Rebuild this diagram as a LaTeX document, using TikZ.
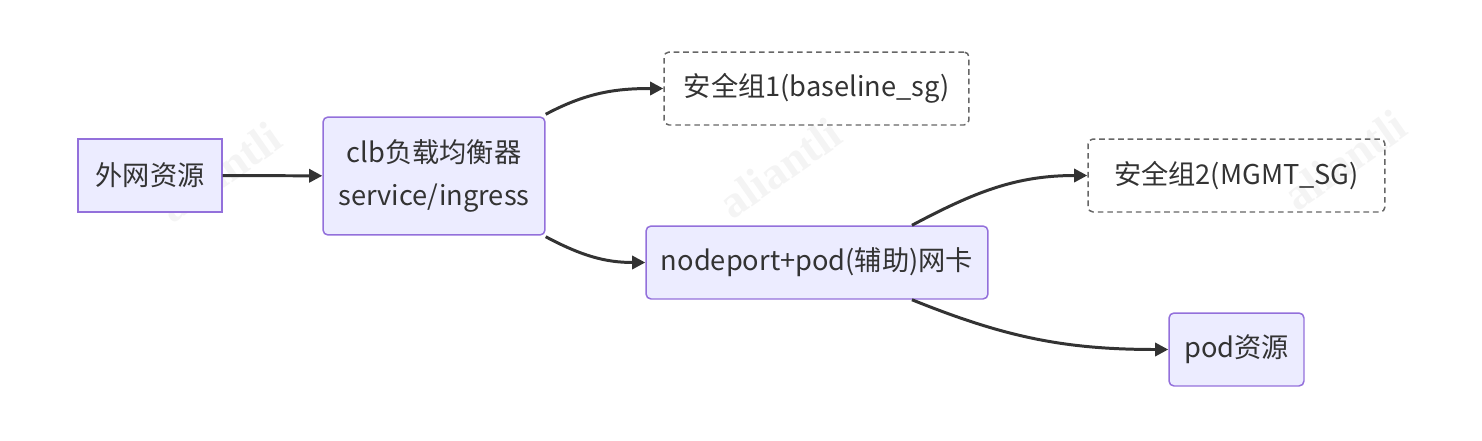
\documentclass[tikz,border=0pt]{standalone}
\usepackage{fontspec}
\setmainfont{Noto Sans CJK SC}
\newfontfamily\wmfont{Liberation Serif}
\usetikzlibrary{arrows.meta,positioning,calc}
\definecolor{boxfill}{HTML}{ECECFF}
\definecolor{boxline}{HTML}{9370DB}
\definecolor{edgecol}{HTML}{333333}
\definecolor{dashcol}{HTML}{666666}

\begin{document}
\begin{tikzpicture}[x=0.02cm, y=-0.02cm]
  \tikzstyle{box}=[draw=boxline, fill=boxfill, line width=0.85pt, inner sep=0pt, font=\fontsize{15.5}{24.5}\selectfont, text=edgecol, align=center]
  \tikzstyle{rbox}=[box, rounded corners=0.1cm]
  \tikzstyle{dbox}=[draw=dashcol, line width=0.85pt, dash pattern=on 3.2pt off 2.2pt, rounded corners=0.1cm, inner sep=0pt, font=\fontsize{15.5}{20}\selectfont, text=edgecol]
  \tikzstyle{link}=[draw=edgecol, line width=1.7pt, -{Triangle[length=7.5pt,width=7.5pt]}]
  \tikzstyle{wmark}=[text=gray!9, font=\wmfont\bfseries\fontsize{26}{26}\selectfont, rotate=35]

  \useasboundingbox (0,0) rectangle (1482,440);

  % marca de agua
  \node[wmark] (wm1) at (220,172) {aliantli};
  \node[wmark] (wm2) at (780,168) {aliantli};
  \node[wmark] (wm3) at (1345,160) {aliantli};

  % nodos
  \node[box, minimum width=2.88cm, minimum height=1.46cm] (ext) at (150,175.5) {外网资源};
  \node[rbox, minimum width=4.44cm, minimum height=2.36cm] (clb) at (434,176) {clb负载均衡器\\service/ingress};
  \node[dbox, minimum width=6.1cm, minimum height=1.46cm] (sgone) at (816.5,88.5) {安全组1(baseline\_sg)};
  \node[dbox, minimum width=5.94cm, minimum height=1.46cm] (sgtwo) at (1236.5,175.5) {安全组2(MGMT\_SG)};
  \node[rbox, minimum width=6.84cm, minimum height=1.46cm] (nport) at (817,262.5) {nodeport+pod(辅助)网卡};
  \node[rbox, minimum width=2.7cm, minimum height=1.46cm] (pod) at (1236.5,349.5) {pod资源};

  % conexiones
  \coordinate (npup) at ([xshift=1.9cm]nport.north);
  \coordinate (npdown) at ([xshift=1.9cm]nport.south);
  \draw[link] (ext) -- (clb);
  \draw[link] ([yshift=0.04cm]clb.north east) to[out=28, in=180] (sgone.west);
  \draw[link] ([yshift=-0.02cm]clb.south east) to[out=-28, in=180] (nport.west);
  \draw[link] (npup) to[out=28, in=180] (sgtwo.west);
  \draw[link] (npdown) to[out=-22, in=180] (pod.west);
\end{tikzpicture}
\end{document}
